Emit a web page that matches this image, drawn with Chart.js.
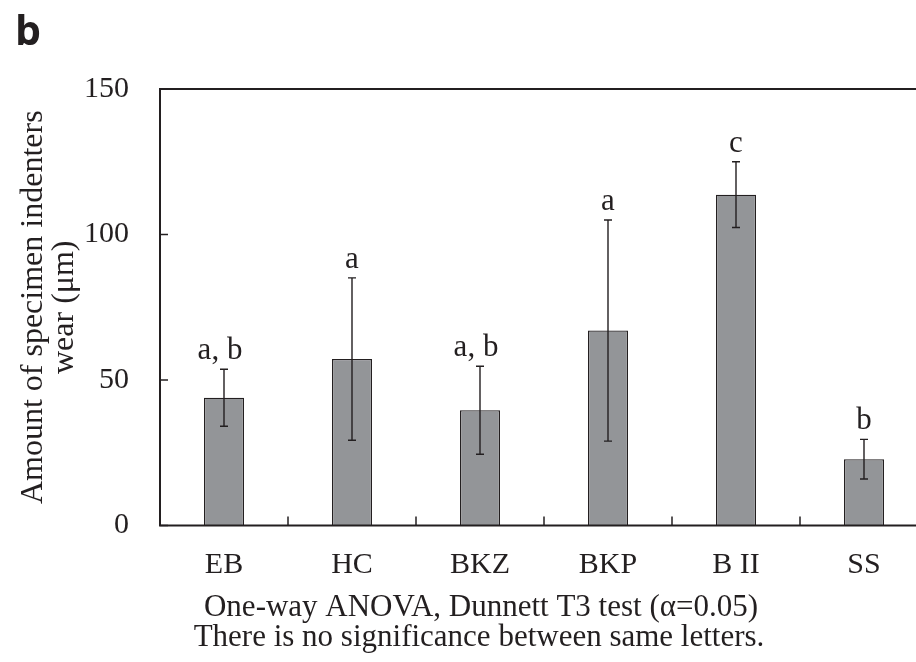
<!DOCTYPE html>
<html>
<head>
<meta charset="utf-8">
<script src="https://cdn.jsdelivr.net/npm/chart.js@4.4.1/dist/chart.umd.min.js"></script>
<style>
  html, body { margin: 0; padding: 0; background: #fff; overflow: hidden; }
  #wrap { width: 940px; height: 662px; }
</style>
</head>
<body>
<div id="wrap"><canvas id="chart"></canvas></div>
<script>
// data
const groups = ["EB", "HC", "BKZ", "BKP", "B II", "SS"];
const wearMean = [43.9, 57.2, 39.6, 67.0, 113.7, 22.8];
const wearSD = [9.8, 27.9, 15.1, 38.0, 11.3, 6.8];
const letters = ["a, b", "a", "a, b", "a", "c", "b"];
const yTicks = [0, 50, 100, 150];

const INK = "#231f20";
const SERIF = "'Liberation Serif', 'Times New Roman', serif";

// frame, inward ticks, error bars, letters and the loose text
const extras = {
  id: "extras",
  afterDatasetsDraw(chart) {
    const { ctx, chartArea: a, scales: { x, y } } = chart;
    ctx.save();
    ctx.strokeStyle = INK;

    // box
    ctx.lineWidth = 2;
    ctx.strokeRect(a.left, a.top, a.right - a.left, a.bottom - a.top);

    // y ticks point inward
    ctx.lineWidth = 1.5;
    yTicks.forEach(v => {
      const py = y.getPixelForValue(v);
      ctx.beginPath();
      ctx.moveTo(a.left, py);
      ctx.lineTo(a.left + 8, py);
      ctx.stroke();
    });

    // x ticks between categories, pointing up
    for (let i = 1; i < groups.length; i++) {
      const px = (x.getPixelForValue(i - 1) + x.getPixelForValue(i)) / 2;
      ctx.beginPath();
      ctx.moveTo(px, a.bottom);
      ctx.lineTo(px, a.bottom - 9);
      ctx.stroke();
    }

    // error bars
    ctx.lineWidth = 1.4;
    wearMean.forEach((m, i) => {
      const px = x.getPixelForValue(i);
      const hi = y.getPixelForValue(m + wearSD[i]);
      const lo = y.getPixelForValue(m - wearSD[i]);
      ctx.beginPath();
      ctx.moveTo(px, hi); ctx.lineTo(px, lo);
      ctx.moveTo(px - 4, hi); ctx.lineTo(px + 4, hi);
      ctx.moveTo(px - 4, lo); ctx.lineTo(px + 4, lo);
      ctx.stroke();
    });

    // significance letters
    ctx.fillStyle = INK;
    ctx.font = "31px " + SERIF;
    ctx.textAlign = "center";
    ctx.textBaseline = "alphabetic";
    letters.forEach((t, i) => {
      const px = x.getPixelForValue(i);
      const py = y.getPixelForValue(wearMean[i] + wearSD[i]) - 10;
      ctx.fillText(t, px - (t.length > 1 ? 4 : 0), py);
    });

    // y axis title, two lines
    ctx.save();
    ctx.translate(0, (a.top + a.bottom) / 2);
    ctx.rotate(-Math.PI / 2);
    ctx.font = "32px " + SERIF;
    ctx.fillText("Amount of specimen indenters", 0, 42);
    ctx.fillText("wear (μm)", 0, 73);
    ctx.restore();

    // notes under the axis
    ctx.font = "31px " + SERIF;
    ctx.fillText("One-way ANOVA, Dunnett T3 test (α=0.05)", 481, 616);
    ctx.fillText("There is no significance between same letters.", 479, 646);

    // panel letter
    ctx.textAlign = "left";
    ctx.font = "bold 41px 'Open Sans', 'Liberation Sans', sans-serif";
    ctx.fillText("b", 15, 45);

    ctx.restore();
  }
};

new Chart(document.getElementById("chart"), {
  type: "bar",
  data: {
    labels: groups,
    datasets: [{
      data: wearMean,
      backgroundColor: "#939598",
      borderColor: INK,
      borderWidth: 1.3,
      borderSkipped: "bottom",
      categoryPercentage: 1,
      barPercentage: 0.3125,
    }],
  },
  options: {
    responsive: true,
    maintainAspectRatio: false,
    animation: false,
    events: [],
    layout: { padding: { left: 0, right: 12, top: 89, bottom: 0 } },
    plugins: { legend: { display: false }, tooltip: { enabled: false } },
    scales: {
      x: {
        grid: { display: false, drawTicks: false },
        border: { display: false },
        ticks: { color: INK, font: { family: SERIF, size: 30 }, padding: 22 },
        afterFit: s => { s.height = 136.5; },
      },
      y: {
        min: 0,
        max: 150,
        afterBuildTicks: s => { s.ticks = yTicks.map(v => ({ value: v })); },
        grid: { display: false, drawTicks: false },
        border: { display: false },
        ticks: { color: INK, font: { family: SERIF, size: 30 }, padding: 31 },
        afterFit: s => { s.width = 160; },
      },
    },
  },
  plugins: [extras],
});
</script>
</body>
</html>
